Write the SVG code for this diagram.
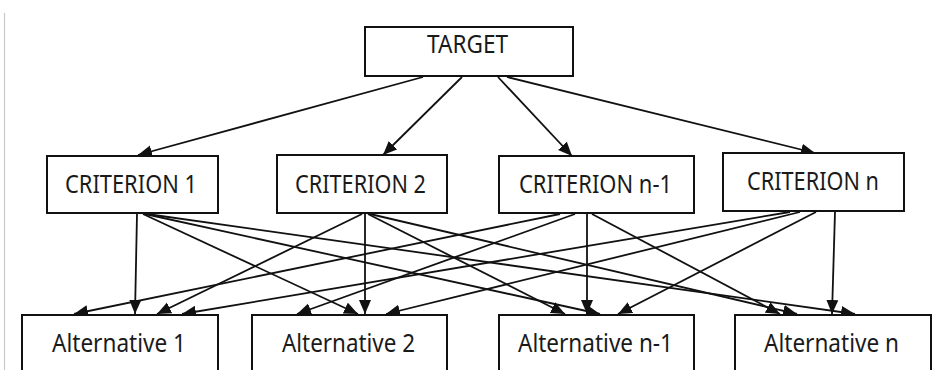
<svg xmlns="http://www.w3.org/2000/svg" width="936" height="370" viewBox="0 0 936 370">
<style>
.box{fill:#fff;stroke:#111;stroke-width:2}
.lbl{font-family:"Noto Sans","Liberation Sans",sans-serif;font-size:25px;fill:#1a1a1a}
.con{stroke:#111;stroke-width:1.8;fill:none;marker-end:url(#ah)}
</style>
<defs>
<marker id="ah" markerUnits="userSpaceOnUse" markerWidth="16" markerHeight="14" refX="14" refY="6" orient="auto">
<path d="M0,0 L14,6 L0,12 Z" fill="#111"/>
</marker>
</defs>
<rect width="936" height="370" fill="#fff"/>
<line x1="4.5" y1="13" x2="4.5" y2="370" stroke="#c8c8c8" stroke-width="1.2"/>
<g id="connectors">
<path class="con" d="M423,77 L138,155"/>
<path class="con" d="M462,77 L383,155"/>
<path class="con" d="M498,77 L572,156"/>
<path class="con" d="M507,77 L815,153"/>
<path class="con" d="M137,214 L135,314"/>
<path class="con" d="M143,214 L358,314"/>
<path class="con" d="M145,214 L600,314"/>
<path class="con" d="M147,214 L855,314"/>
<path class="con" d="M362,214 L157,314"/>
<path class="con" d="M365,214 L365,314"/>
<path class="con" d="M368,214 L565,314"/>
<path class="con" d="M370,214 L797,314"/>
<path class="con" d="M560,214 L74,314"/>
<path class="con" d="M575,214 L297,314"/>
<path class="con" d="M587,214 L587,314"/>
<path class="con" d="M592,214 L780,314"/>
<path class="con" d="M790,212 L182,314"/>
<path class="con" d="M800,212 L386,314"/>
<path class="con" d="M816,212 L618,314"/>
<path class="con" d="M835,212 L832,314"/>
</g>
<g id="target"><rect class="box" x="365" y="27" width="208" height="49"/><text class="lbl" x="427" y="53" textLength="81" lengthAdjust="spacingAndGlyphs">TARGET</text></g>
<g id="criterion1"><rect class="box" x="47" y="156" width="171" height="57"/><text class="lbl" x="65" y="193" textLength="132" lengthAdjust="spacingAndGlyphs">CRITERION 1</text></g>
<g id="criterion2"><rect class="box" x="277" y="155" width="170" height="58"/><text class="lbl" x="295" y="193" textLength="131" lengthAdjust="spacingAndGlyphs">CRITERION 2</text></g>
<g id="criterion-n-1"><rect class="box" x="499" y="156" width="195" height="57"/><text class="lbl" x="519" y="193" textLength="153" lengthAdjust="spacingAndGlyphs">CRITERION n-1</text></g>
<g id="criterion-n"><rect class="box" x="723" y="153" width="181" height="58"/><text class="lbl" x="747" y="190" textLength="132" lengthAdjust="spacingAndGlyphs">CRITERION n</text></g>
<g id="alternative1"><rect class="box" x="22" y="315" width="196" height="70"/><text class="lbl" x="52" y="352" textLength="134" lengthAdjust="spacingAndGlyphs">Alternative 1</text></g>
<g id="alternative2"><rect class="box" x="252" y="315" width="195" height="70"/><text class="lbl" x="282" y="352" textLength="133" lengthAdjust="spacingAndGlyphs">Alternative 2</text></g>
<g id="alternative-n-1"><rect class="box" x="499" y="315" width="195" height="70"/><text class="lbl" x="518" y="352" textLength="155" lengthAdjust="spacingAndGlyphs">Alternative n-1</text></g>
<g id="alternative-n"><rect class="box" x="735" y="315" width="196" height="70"/><text class="lbl" x="764" y="352" textLength="135" lengthAdjust="spacingAndGlyphs">Alternative n</text></g>
</svg>
